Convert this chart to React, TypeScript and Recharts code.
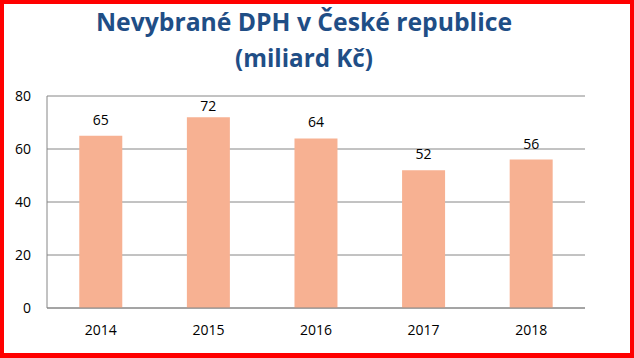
import React from "react";
import { BarChart, Bar, XAxis, YAxis, CartesianGrid, LabelList } from "recharts";

const years = ["2014", "2015", "2016", "2017", "2018"];
const values = [65, 72, 64, 52, 56];
const yTicks = [0, 20, 40, 60, 80];
const titleLine1 = "Nevybrané DPH v České republice";
const titleLine2 = "(miliard Kč)";

const data = years.map((y, i) => ({ year: y, value: values[i] }));

const W = 634;
const H = 358;
const PLOT_TOP = 96;
const FONT = "'Open Sans', 'Noto Sans', sans-serif";

const ValueLabel = (props: any) => {
  const { x, y, width, value } = props;
  const baseline = Math.max(y - 11, PLOT_TOP + 15);
  return (
    <text x={x + width / 2} y={baseline} textAnchor="middle" fontFamily={FONT} fontSize={14} fill="#000">
      {value}
    </text>
  );
};

export default function App() {
  return (
    <div style={{ position: "absolute", left: 0, top: 0, width: W, height: H, background: "#fff" }}>
      <BarChart
        width={W}
        height={H}
        data={data}
        margin={{ top: PLOT_TOP, right: 49, bottom: 20, left: 7 }}
        barCategoryGap="30%"
      >
        <CartesianGrid vertical={false} stroke="#868686" strokeWidth={1} />
        <XAxis
          dataKey="year"
          height={30}
          axisLine={{ stroke: "#868686" }}
          tickLine={false}
          tickSize={0}
          tickMargin={17}
          tick={{ fontFamily: FONT, fontSize: 14, fill: "#000" }}
        />
        <YAxis
          width={40}
          domain={[0, 80]}
          ticks={yTicks}
          axisLine={{ stroke: "#868686" }}
          tickLine={false}
          tickSize={0}
          tickMargin={16}
          tick={{ fontFamily: FONT, fontSize: 14, fill: "#000" }}
        />
        <Bar dataKey="value" fill="#F7B192" isAnimationActive={false}>
          <LabelList dataKey="value" content={ValueLabel} />
        </Bar>
      </BarChart>
      <svg
        width={W}
        height={90}
        style={{ position: "absolute", left: 0, top: 0, pointerEvents: "none" }}
      >
        <text
          x={304}
          y={31}
          textAnchor="middle"
          fontFamily={FONT}
          fontWeight="bold"
          fontSize={25}
          fill="#1F4E86"
          textLength={416}
          lengthAdjust="spacingAndGlyphs"
        >
          {titleLine1}
        </text>
        <text
          x={304}
          y={67}
          textAnchor="middle"
          fontFamily={FONT}
          fontWeight="bold"
          fontSize={25}
          fill="#1F4E86"
          textLength={138}
          lengthAdjust="spacingAndGlyphs"
        >
          {titleLine2}
        </text>
      </svg>
      <div
        style={{
          position: "absolute",
          left: 0,
          top: 0,
          width: W,
          height: H,
          boxSizing: "border-box",
          borderStyle: "solid",
          borderColor: "#FF0000",
          borderWidth: "4px 4px 5px 4px",
          pointerEvents: "none",
        }}
      />
    </div>
  );
}
